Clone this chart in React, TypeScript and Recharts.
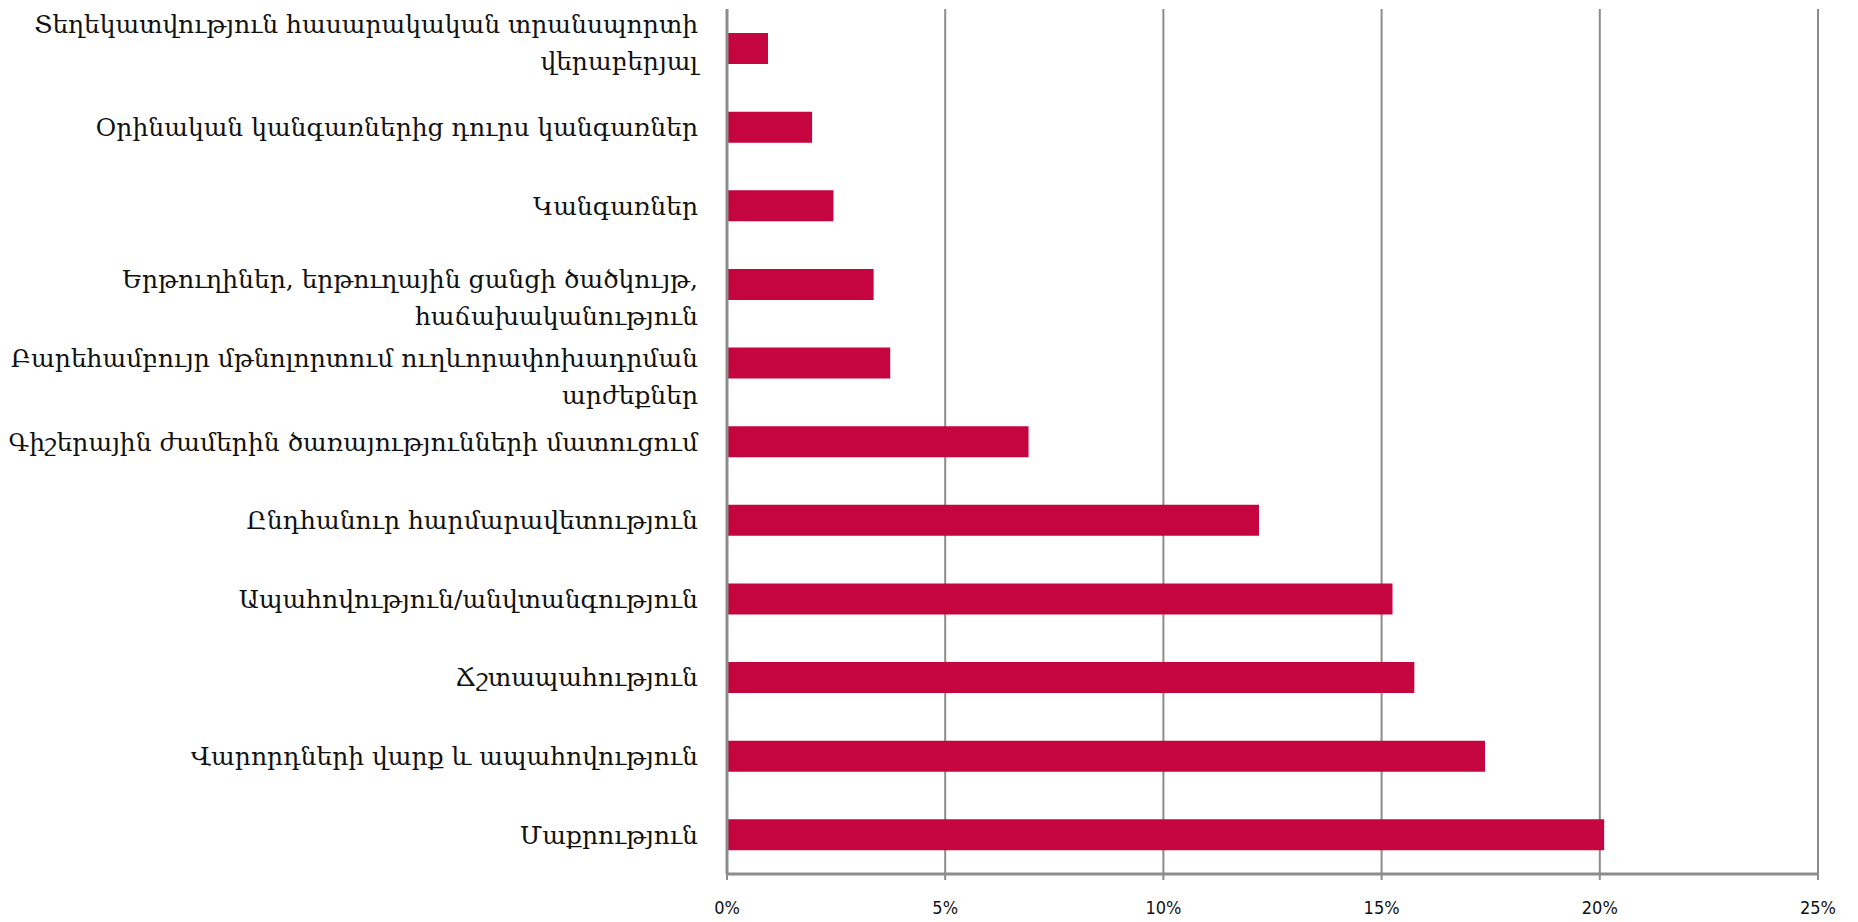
import React from 'react';
import { BarChart, Bar, XAxis, YAxis, CartesianGrid } from 'recharts';

const LABELS: string[][] = [
  ['Տեղեկատվություն հասարակական տրանսպորտի', 'վերաբերյալ'],
  ['Օրինական կանգառներից դուրս կանգառներ'],
  ['Կանգառներ'],
  ['Երթուղիներ, երթուղային ցանցի ծածկույթ,', 'հաճախականություն'],
  ['Բարեհամբույր մթնոլորտում ուղևորափոխադրման', 'արժեքներ'],
  ['Գիշերային ժամերին ծառայությունների մատուցում'],
  ['Ընդհանուր հարմարավետություն'],
  ['Ապահովություն/անվտանգություն'],
  ['Ճշտապահություն'],
  ['Վարորդների վարք և ապահովություն'],
  ['Մաքրություն'],
];

const VALUES = [0.94, 1.95, 2.44, 3.36, 3.74, 6.91, 12.19, 15.25, 15.75, 17.37, 20.1];

const X_TICKS = [0, 5, 10, 15, 20, 25];

const BAR_COLOR = '#c5053f';
const GRID_COLOR = '#8c8c8c';
const LABEL_FONT = '"DejaVu Serif", serif';
const TICK_FONT = '"DejaVu Sans Condensed", "DejaVu Sans", sans-serif';

const data = LABELS.map((lines, i) => ({ key: String(i), value: VALUES[i] }));

const CategoryTick = (props: any) => {
  const { x, y, payload } = props;
  const idx = Number(payload.value);
  const lines = LABELS[idx] ?? [];
  const two = lines.length > 1;
  // the top label sits centred on its bar, the others hang below it
  const firstDy = two ? (idx === 0 ? -15 : 4) : 9;
  return (
    <text
      x={x - 21}
      y={y}
      textAnchor="end"
      fill="#111"
      style={{ fontFamily: LABEL_FONT, fontSize: 25 }}
    >
      {lines.map((line, i) => (
        <tspan key={i} x={x - 21} dy={i === 0 ? firstDy : 37}>
          {line}
        </tspan>
      ))}
    </text>
  );
};

export default function App() {
  return (
    <div style={{ position: 'absolute', left: 0, top: 0, background: '#fff' }}>
      <BarChart
        width={1858}
        height={922}
        data={data}
        layout="vertical"
        margin={{ top: 9, right: 40, left: 0, bottom: 0 }}
        barCategoryGap={0}
      >
        <CartesianGrid horizontal={false} vertical stroke={GRID_COLOR} strokeWidth={2} />
        <XAxis
          type="number"
          domain={[0, 25]}
          ticks={X_TICKS}
          interval={0}
          height={48}
          tickFormatter={(v: number) => `${v}%`}
          axisLine={{ stroke: GRID_COLOR, strokeWidth: 3 }}
          tickLine={{ stroke: GRID_COLOR, strokeWidth: 2 }}
          tickSize={6}
          tickMargin={21}
          tick={{ fill: '#111', fontSize: 18, fontFamily: TICK_FONT }}
        />
        <YAxis
          type="category"
          dataKey="key"
          width={727}
          axisLine={{ stroke: GRID_COLOR, strokeWidth: 3 }}
          tickLine={false}
          interval={0}
          tick={<CategoryTick />}
        />
        <Bar dataKey="value" fill={BAR_COLOR} barSize={31} isAnimationActive={false} />
      </BarChart>
    </div>
  );
}
